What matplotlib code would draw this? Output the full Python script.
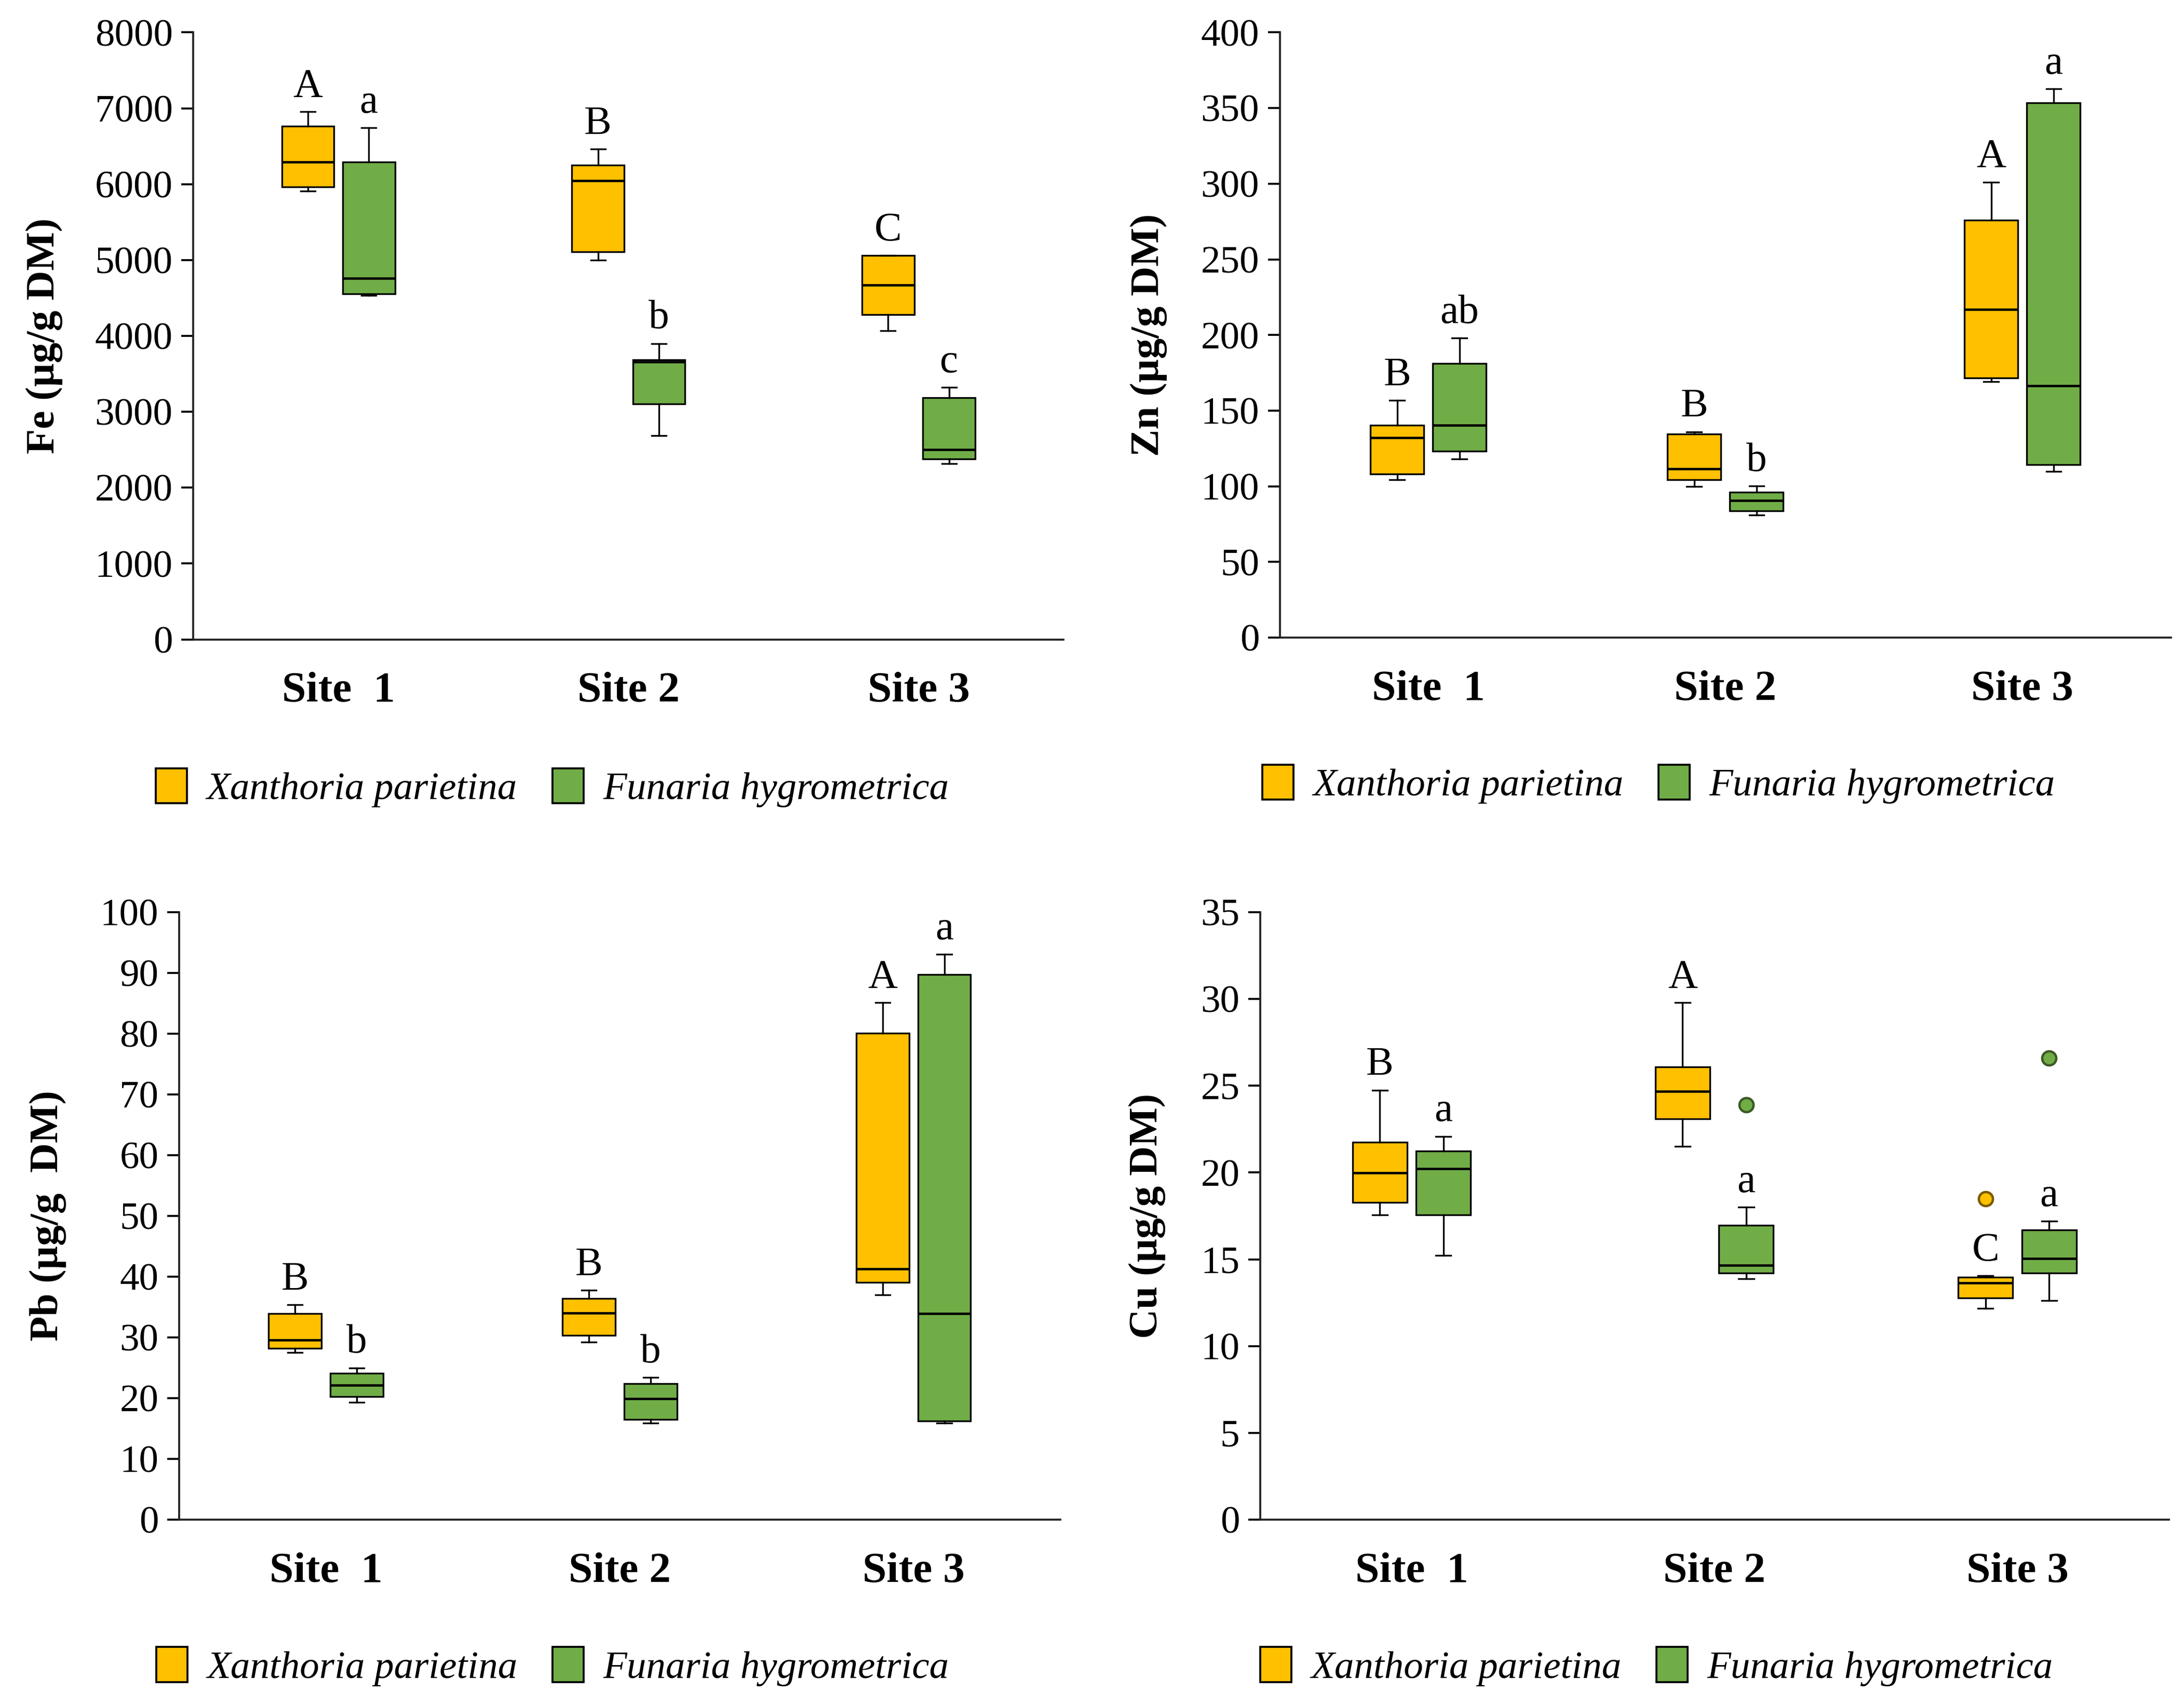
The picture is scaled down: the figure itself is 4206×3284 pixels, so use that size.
import matplotlib
matplotlib.use("Agg")
import matplotlib.pyplot as plt
from matplotlib.patches import Patch

plt.rcParams['font.family'] = ['Liberation Serif', 'DejaVu Serif']

# five-number summaries per site: [low whisker, Q1, median, Q3, high whisker]
sites = ["Site  1", "Site 2", "Site 3"]
species = ["Xanthoria parietina", "Funaria hygrometrica"]
colors = ["#FFC000", "#70AD47"]

fe_xp = [[5907, 5964, 6293, 6765, 6958],
         [4997, 5111, 6049, 6248, 6464],
         [4065, 4281, 4673, 5060, 5060]]
fe_fh = [[4531, 4554, 4758, 6293, 6742],
         [2683, 3104, 3655, 3684, 3900],
         [2319, 2376, 2501, 3184, 3320]]
fe_let_xp = ["A", "B", "C"]
fe_let_fh = ["a", "b", "c"]

zn_xp = [[104.5, 108.2, 132.1, 140.3, 156.8],
         [100.0, 104.3, 111.6, 134.7, 136.1],
         [169.3, 171.6, 217.0, 276.1, 301.1]]
zn_fh = [[118.2, 123.3, 140.3, 181.3, 198.0],
         [81.0, 83.8, 90.6, 96.3, 100.3],
         [109.9, 114.2, 166.5, 353.4, 362.8]]
zn_let_xp = ["B", "B", "A"]
zn_let_fh = ["ab", "b", "a"]

pb_xp = [[27.5, 28.2, 29.6, 33.9, 35.4],
         [29.2, 30.3, 34.0, 36.4, 37.8],
         [37.0, 39.1, 41.3, 80.1, 85.1]]
pb_fh = [[19.3, 20.3, 22.1, 24.1, 25.0],
         [15.9, 16.5, 19.9, 22.4, 23.4],
         [15.9, 16.2, 33.9, 89.7, 93.1]]
pb_let_xp = ["B", "B", "A"]
pb_let_fh = ["b", "b", "a"]

cu_xp = [[17.56, 18.29, 19.98, 21.76, 24.75],
         [21.52, 23.09, 24.69, 26.08, 29.8],
         [12.18, 12.76, 13.63, 13.96, 14.05]]
cu_fh = [[15.23, 17.56, 20.22, 21.25, 22.09],
         [13.87, 14.2, 14.66, 16.95, 18.01],
         [12.63, 14.2, 15.05, 16.7, 17.2]]
cu_out_xp = [[], [], [18.5]]
cu_out_fh = [[], [23.9], [26.6]]
cu_let_xp = ["B", "A", "C"]
cu_let_fh = ["a", "a", "a"]

panels = [
    dict(rect=[0.0885, 0.625, 0.3985, 0.356], xp=fe_xp, fh=fe_fh, lx=fe_let_xp, lf=fe_let_fh,
         ymax=8000, step=1000, ylabel="Fe (µg/g DM)", labx=-0.150, leg=(0.0714, 0.538)),
    dict(rect=[0.586, 0.626, 0.408, 0.355], xp=zn_xp, fh=zn_fh, lx=zn_let_xp, lf=zn_let_fh,
         ymax=400, step=50, ylabel="Zn (µg/g DM)", labx=-0.126, leg=(0.578, 0.540)),
    dict(rect=[0.082, 0.1087, 0.4035, 0.3563], xp=pb_xp, fh=pb_fh, lx=pb_let_xp, lf=pb_let_fh,
         ymax=100, step=10, ylabel="Pb (µg/g  DM)", labx=-0.128, leg=(0.0716, 0.0225)),
    dict(rect=[0.577, 0.1087, 0.416, 0.3563], xp=cu_xp, fh=cu_fh, lx=cu_let_xp, lf=cu_let_fh,
         ymax=35, step=5, ylabel="Cu (µg/g DM)", labx=-0.104, leg=(0.577, 0.0225),
         oxp=cu_out_xp, ofh=cu_out_fh),
]

offset = 0.105
edge_out = ["#7a5a00", "#3d5a25"]
fig = plt.figure(figsize=(4206 / 300, 3284 / 300), dpi=300)

for p in panels:
    ax = fig.add_axes(p["rect"])
    for k, (data, col, letters, outs) in enumerate([
            (p["xp"], colors[0], p["lx"], p.get("oxp", [[], [], []])),
            (p["fh"], colors[1], p["lf"], p.get("ofh", [[], [], []]))]):
        stats = []
        for d, o in zip(data, outs):
            stats.append(dict(whislo=d[0], q1=d[1], med=d[2], q3=d[3], whishi=d[4], fliers=o))
        pos = [i + (2 * k - 1) * offset for i in range(len(data))]
        ax.bxp(stats, positions=pos, widths=0.18, patch_artist=True, capwidths=0.05,
               boxprops=dict(facecolor=col, edgecolor="black", linewidth=0.8),
               medianprops=dict(color="black", linewidth=1.1),
               whiskerprops=dict(color="black", linewidth=0.8),
               capprops=dict(color="black", linewidth=0.8),
               flierprops=dict(marker="o", markerfacecolor=col, markeredgecolor=edge_out[k],
                               markersize=6.5, markeredgewidth=1.1))
        for x, d, t in zip(pos, data, letters):
            ax.annotate(t, (x, d[4]), xytext=(0, 7), textcoords="offset points",
                        ha="center", va="baseline", fontsize=19)

    ax.set_xlim(-0.5, 2.5)
    ax.set_ylim(0, p["ymax"])
    ax.set_yticks(range(0, p["ymax"] + 1, p["step"]))
    ax.set_xticks(range(3))
    ax.set_xticklabels(sites, fontsize=20, fontweight="bold")
    ax.tick_params(axis="x", length=0, pad=15)
    ax.tick_params(axis="y", length=5.5, width=0.9, labelsize=18, pad=4)
    for s in ["top", "right"]:
        ax.spines[s].set_visible(False)
    for s in ["left", "bottom"]:
        ax.spines[s].set_linewidth(0.9)
        ax.spines[s].set_color("#222222")
    ax.set_ylabel(p["ylabel"], fontsize=19, fontweight="bold")
    ax.yaxis.set_label_coords(p["labx"], 0.5)

    handles = [Patch(facecolor=c, edgecolor="black", linewidth=0.9) for c in colors]
    fig.legend(handles, species, loc="center left", bbox_to_anchor=p["leg"], ncol=2,
               frameon=False, prop=dict(style="italic", size=18), handlelength=0.8,
               handleheight=1.0, handletextpad=0.5, columnspacing=0.9,
               borderpad=0, borderaxespad=0)

fig.savefig("out.png", dpi=300)
